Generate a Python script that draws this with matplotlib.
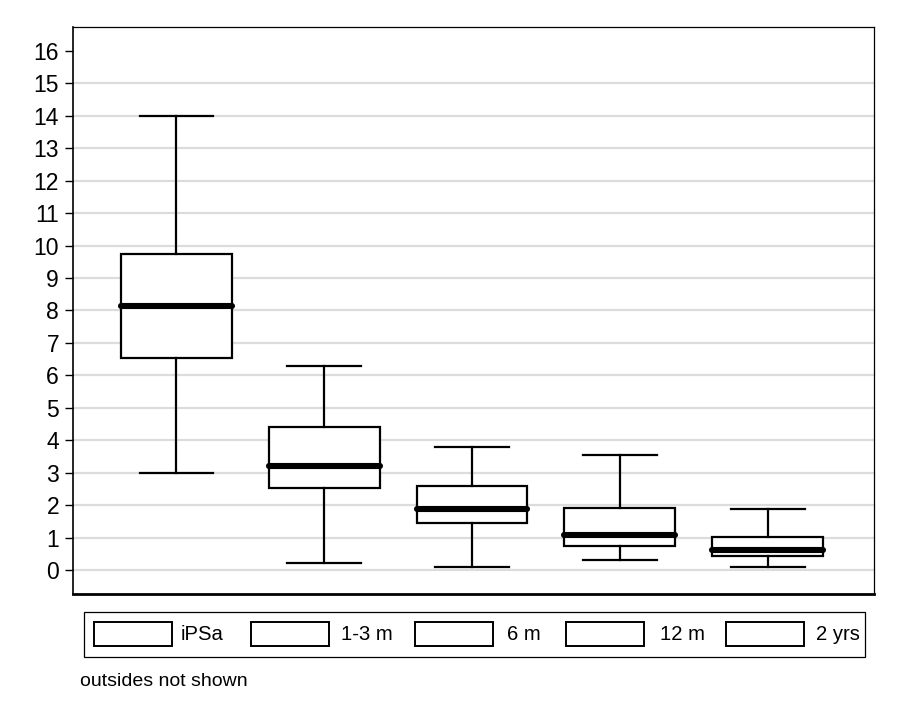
import matplotlib.pyplot as plt
from matplotlib.patches import Rectangle

groups = ["iPSa", "1-3 m", "6 m", "12 m", "2 yrs"]
whislo = [3.00, 0.22, 0.10, 0.32, 0.10]
q1 = [6.55, 2.53, 1.46, 0.74, 0.43]
med = [8.14, 3.22, 1.88, 1.08, 0.63]
q3 = [9.73, 4.42, 2.60, 1.92, 1.03]
whishi = [14.00, 6.29, 3.80, 3.56, 1.88]
yticks = list(range(0, 17))
note = "outsides not shown"

# legend layout, in pixels of the 900x720 figure
key_x = [94, 251, 415, 566, 726]
text_x = [181, 341, 507, 660, 816]

plt.rcParams["font.family"] = ["Liberation Sans", "DejaVu Sans"]

stats = []
for i in range(len(groups)):
    stats.append({"label": groups[i], "whislo": whislo[i], "q1": q1[i], "med": med[i],
                  "q3": q3[i], "whishi": whishi[i], "fliers": []})

fig = plt.figure(figsize=(9, 7.2), dpi=100)

# overlay in pixel units for the legend block and the note
lay = fig.add_axes([0, 0, 1, 1], zorder=0)
lay.set_xlim(0, 900)
lay.set_ylim(720, 0)
lay.axis("off")

ax = fig.add_axes([73 / 900, 1 - 594 / 720, 801 / 900, 567 / 720], zorder=1)

ax.bxp(stats, positions=range(len(groups)), widths=0.75, showfliers=False,
       patch_artist=True,
       boxprops=dict(facecolor="white", edgecolor="black", linewidth=1.6),
       whiskerprops=dict(color="black", linewidth=1.6),
       capprops=dict(color="black", linewidth=1.6),
       medianprops=dict(color="black", linewidth=4.4, solid_capstyle="round"),
       capwidths=0.5, zorder=3)

for y in yticks[:-1]:
    ax.axhline(y, color="#dcdcdc", linewidth=1.6, zorder=1)

ax.set_xlim(-0.70, 4.72)
ax.set_ylim(-0.74, 16.74)
ax.set_yticks(yticks)
ax.set_xticks([])
ax.tick_params(axis="y", direction="out", length=6, width=1, labelsize=16.5, pad=4)

ax.spines["left"].set_linewidth(1.2)
ax.spines["bottom"].set_linewidth(2.0)
ax.spines["top"].set_linewidth(0.9)
ax.spines["right"].set_linewidth(0.9)

# legend
lay.add_patch(Rectangle((84, 612), 781, 45, facecolor="white", edgecolor="black", linewidth=0.9))
for i, g in enumerate(groups):
    lay.add_patch(Rectangle((key_x[i], 622), 78, 24, facecolor="white", edgecolor="black",
                            linewidth=1.4))
    lay.text(text_x[i], 634.5, g, fontsize=14.6, va="center", ha="left")

lay.text(80, 681, note, fontsize=14, va="center", ha="left")

fig.savefig("out.png", dpi=100, facecolor="white")
